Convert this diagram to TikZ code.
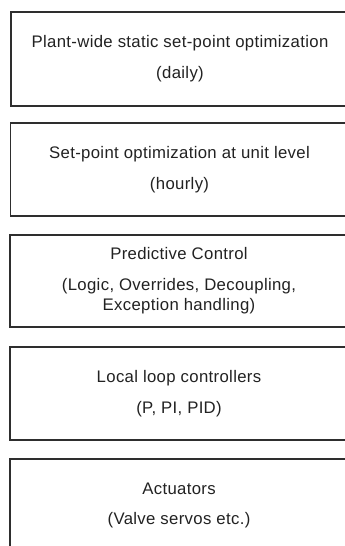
\documentclass[tikz,border=0pt]{standalone}
\usepackage{fontspec}
\setmainfont[LetterSpace=2]{Liberation Sans}
\usepackage{xcolor}
\definecolor{FrameGray}{HTML}{2E2E2E}
\definecolor{InkGray}  {HTML}{222222}
\tikzset{
  lvlbox/.style={rectangle,draw=FrameGray,line width=1.4bp,fill=white,
                 minimum width=338bp,minimum height=93bp,align=center,
                 font=\fontsize{16.8}{20}\selectfont\color{InkGray}},
}
\begin{document}
\begin{tikzpicture}[x=1bp,y=1bp]

  \useasboundingbox (0,0) rectangle (344,546);

  \node[lvlbox,minimum height=94bp] (plant) at (180,487)
    {Plant-wide static set-point optimization\\[11bp](daily)};

  \node[lvlbox] (unit) at (179.5,376.5)
    {Set-point optimization at unit level\\[11bp](hourly)};

  \node[lvlbox,minimum height=92bp] (predict) at (179,265)
    {Predictive Control\\[11bp](Logic, Overrides, Decoupling,\\Exception handling)};

  \node[lvlbox] (loop) at (179,152.5)
    {Local loop controllers\\[11bp](P, PI, PID)};

  \node[lvlbox] (act) at (179,40.5)
    {Actuators\\[11bp](Valve servos etc.)};

\end{tikzpicture}
\end{document}
